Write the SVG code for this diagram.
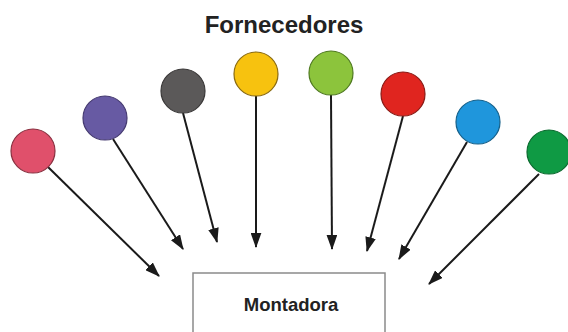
<svg xmlns="http://www.w3.org/2000/svg" width="568" height="332" viewBox="0 0 568 332">
<defs>
<style>
.lbl{font-family:"Liberation Sans",Arial,sans-serif;font-weight:bold;fill:#222;text-anchor:middle}
.node circle{stroke-width:1.2}
.conn line{stroke:#1a1a1a;stroke-width:2;marker-end:url(#ah)}
</style>
<marker id="ah" viewBox="0 0 14 10" refX="13" refY="5" markerWidth="7.5" markerHeight="5.5" orient="auto" markerUnits="strokeWidth">
<path d="M0,0 L14,5 L0,10 Z" fill="#1a1a1a"/>
</marker>
</defs>
<rect width="568" height="332" fill="#fff"/>
<text class="lbl" x="284" y="33" font-size="24">Fornecedores</text>
<g class="conn">
<line x1="48" y1="167" x2="159" y2="276"/>
<line x1="113" y1="139" x2="183" y2="249"/>
<line x1="183" y1="113" x2="217" y2="242"/>
<line x1="256" y1="96" x2="256" y2="247"/>
<line x1="331" y1="95" x2="332" y2="249"/>
<line x1="403" y1="116" x2="367" y2="251"/>
<line x1="467" y1="142" x2="399" y2="259"/>
<line x1="539" y1="174" x2="429" y2="284"/>
</g>
<g id="s1" class="node"><circle cx="33" cy="151" r="22" fill="#e0506b" stroke="#8a3040"/></g>
<g id="s2" class="node"><circle cx="105" cy="118" r="22" fill="#675aa3" stroke="#453a70"/></g>
<g id="s3" class="node"><circle cx="183" cy="91" r="22" fill="#5b5959" stroke="#3a3838"/></g>
<g id="s4" class="node"><circle cx="256" cy="74" r="22" fill="#f7c20f" stroke="#8a6a10"/></g>
<g id="s5" class="node"><circle cx="331" cy="73" r="22" fill="#8cc43c" stroke="#4f7a20"/></g>
<g id="s6" class="node"><circle cx="403" cy="94" r="22" fill="#e0251f" stroke="#8a1a15"/></g>
<g id="s7" class="node"><circle cx="478" cy="122" r="22" fill="#1f96dc" stroke="#15608a"/></g>
<g id="s8" class="node"><circle cx="549" cy="152" r="22" fill="#0f9a44" stroke="#0a6a2e"/></g>
<g id="montadora" class="node">
<rect x="193" y="273" width="192" height="70" fill="#fff" stroke="#8a8a8a" stroke-width="1.5"/>
<text class="lbl" x="291" y="311" font-size="18.5">Montadora</text>
</g>
</svg>
